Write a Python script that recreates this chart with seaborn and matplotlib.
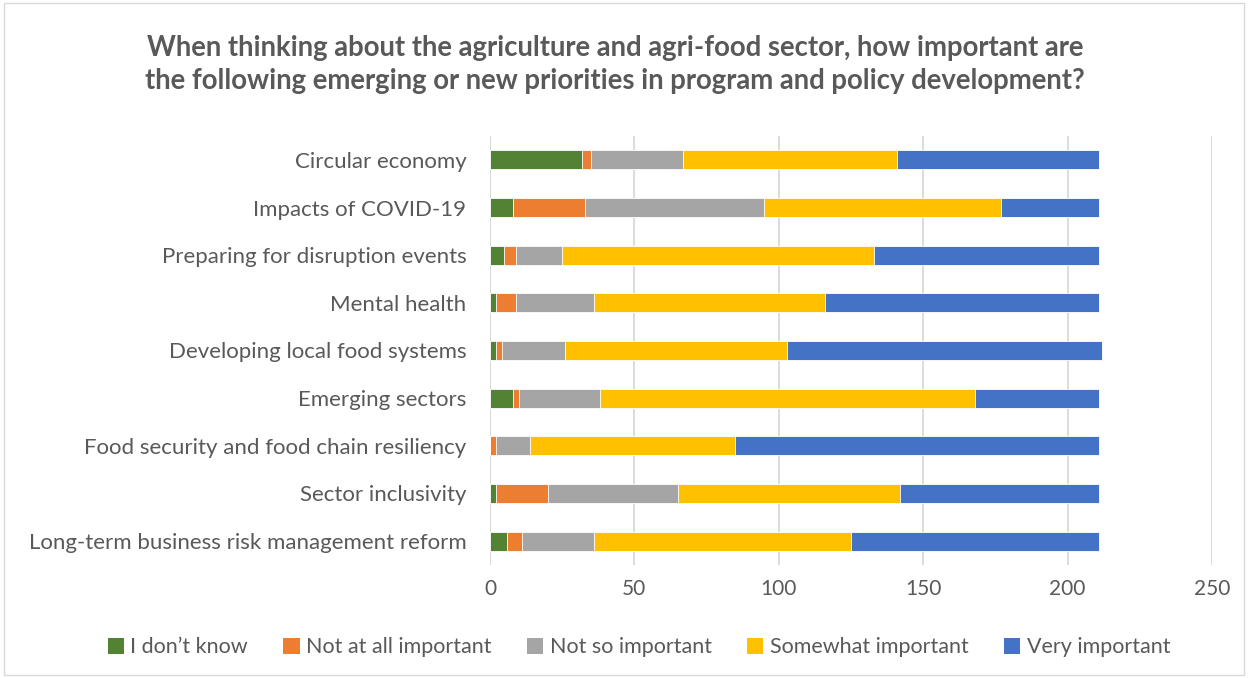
import numpy as np
import pandas as pd
import matplotlib
matplotlib.use("Agg")
import matplotlib.pyplot as plt
from matplotlib.patches import Patch, Rectangle
import seaborn as sns

categories = [
    "Circular economy",
    "Impacts of COVID-19",
    "Preparing for disruption events",
    "Mental health",
    "Developing local food systems",
    "Emerging sectors",
    "Food security and food chain resiliency",
    "Sector inclusivity",
    "Long-term business risk management reform",
]
series = ["I don\u2019t know", "Not at all important", "Not so important",
          "Somewhat important", "Very important"]
dont_know = [32, 8, 5, 2, 2, 8, 0, 2, 6]
not_at_all = [3, 25, 4, 7, 2, 2, 2, 18, 5]
not_so = [32, 62, 16, 27, 22, 28, 12, 45, 25]
somewhat = [74, 82, 108, 80, 77, 130, 71, 77, 89]
very = [70, 34, 78, 95, 109, 43, 126, 69, 86]
colors = ["#548235", "#ED7D31", "#A5A5A5", "#FFC000", "#4472C4"]
x_ticks = [0, 50, 100, 150, 200, 250]

sns.set_theme(style="white")
plt.rcParams["font.family"] = ["Lato", "DejaVu Sans"]

df = pd.DataFrame(
    {s: v for s, v in zip(series, [dont_know, not_at_all, not_so, somewhat, very])},
    index=categories,
)
cum = df.cumsum(axis=1)

fig = plt.figure(figsize=(12.48, 6.78), dpi=100)
ax = fig.add_axes([0.3926, 0.1667, 0.5786, 0.6327])

# Stacked bars: draw running totals from the widest down so each segment shows
for s, c in reversed(list(zip(series, colors))):
    sns.barplot(x=cum[s].values, y=categories, orient="h", color=c,
                width=0.4, ax=ax, edgecolor="white", linewidth=0.6,
                saturation=1)

ax.set_xlim(0, 250)
ax.set_xticks(x_ticks)
ax.set_xticklabels([str(t) for t in x_ticks])
ax.set_ylim(len(categories) - 0.5, -0.5)
ax.grid(axis="x", color="#D9D9D9", linewidth=1.3)
ax.set_axisbelow(True)
for sp in ax.spines.values():
    sp.set_visible(False)
ax.axvline(0, color="#D9D9D9", linewidth=1.3, zorder=0)
ax.tick_params(axis="y", length=0, labelsize=16, labelcolor="#595959", pad=17)
ax.tick_params(axis="x", length=0, labelsize=15, labelcolor="#595959", pad=10)
ax.set_xlabel("")
ax.set_ylabel("")

fig.text(0.493, 0.905,
         "When thinking about the agriculture and agri-food sector, how important are\n"
         "the following emerging or new priorities in program and policy development?",
         ha="center", va="center", fontsize=19.8, fontweight="bold",
         color="#595959", linespacing=1.3)

handles = [Patch(facecolor=c, edgecolor="none") for c in colors]
fig.legend(handles, series, loc="center", bbox_to_anchor=(0.512, 0.045),
           ncol=5, frameon=False, fontsize=15.5, labelcolor="#595959",
           handlelength=0.75, handleheight=0.75, handletextpad=0.3,
           columnspacing=1.65)

fig.patches.append(Rectangle((0.003, 0.004), 0.994, 0.992, transform=fig.transFigure,
                             fill=False, edgecolor="#D9D9D9", linewidth=1))

fig.savefig("out.png", dpi=100)
